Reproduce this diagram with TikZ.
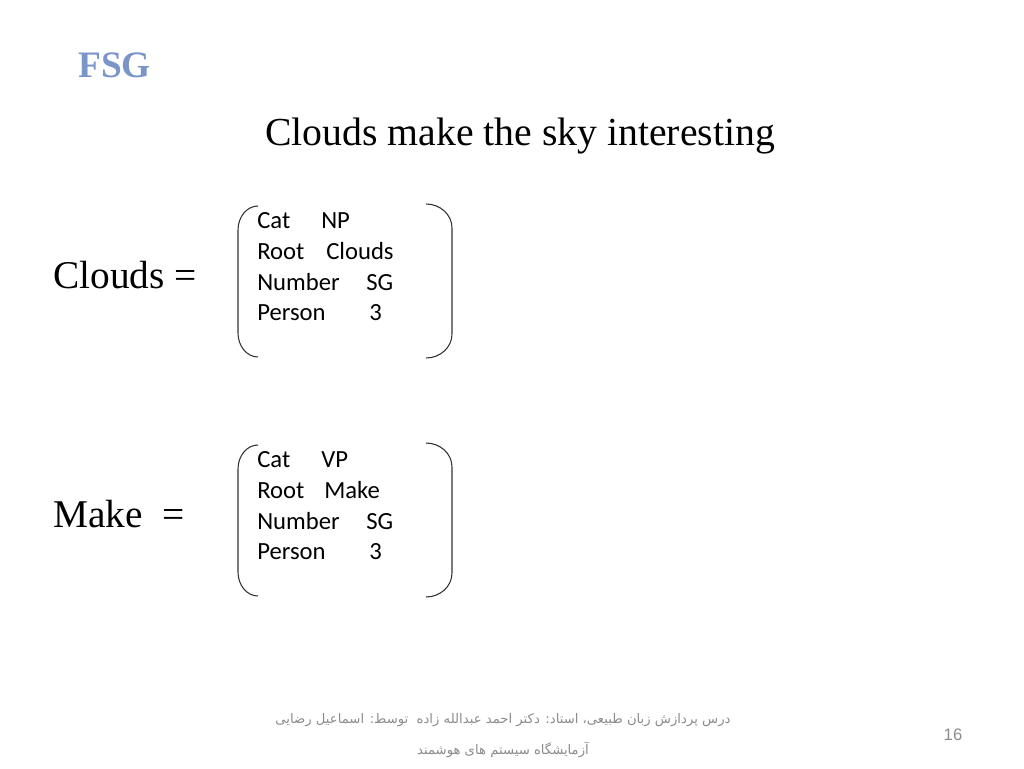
\documentclass[tikz,border=0pt]{standalone}
\usepackage{fontspec}
\setmainfont{Liberation Serif}
\newfontfamily\featfont{Carlito}
\newfontfamily\numfont{Liberation Sans}
\newfontfamily\arabicfont[Script=Arabic]{DejaVu Sans}
\TeXXeTstate=1
\definecolor{fsgblue}{RGB}{122,150,200}
\definecolor{footgray}{RGB}{140,140,140}

\begin{document}
\begin{tikzpicture}[x=0.75pt,y=0.75pt,
  every node/.style={inner sep=0pt},
  big/.style={anchor=base west,font=\fontsize{29.5}{34}\selectfont},
  feat/.style={anchor=base west,font=\featfont\fontsize{18.5}{22}\selectfont},
  brack/.style={black!80,line width=0.8pt},
  foot/.style={text=footgray,font=\arabicfont\fontsize{9.9}{12}\selectfont}]
\useasboundingbox [fill=white] (0,0) rectangle (1024,-768);
% heading
\node [anchor=base west,text=fsgblue,font=\bfseries\fontsize{28}{32}\selectfont] (fsg) at (78,-77) {FSG};
\node [anchor=base,font=\fontsize{29.8}{34}\selectfont] (title) at (520,-145) {Clouds make the sky interesting};
% first structure
\node [big] (clouds) at (53,-288) {Clouds =};
\draw [brack] (258,-206) arc (90:180:20 and 24) -- (238,-333) arc (180:270:20 and 24);
\draw [brack] (426,-204) arc (90:0:26 and 24) -- (452,-334) arc (0:-90:26 and 24);
\node [feat] (c1k) at (257,-228) {Cat};
\node [feat] (c1v) at (321,-228) {NP};
\node [feat] (c2k) at (257,-259) {Root};
\node [feat] (c2v) at (326,-259) {Clouds};
\node [feat] (c3k) at (257,-290) {Number};
\node [feat] (c3v) at (366,-290) {SG};
\node [feat] (c4k) at (257,-320) {Person};
\node [feat] (c4v) at (369,-320) {3};
% second structure
\node [big] (make) at (53,-527) {Make\ \ =};
\draw [brack] (258,-445) arc (90:180:20 and 24) -- (238,-572) arc (180:270:20 and 24);
\draw [brack] (426,-443) arc (90:0:26 and 24) -- (452,-573) arc (0:-90:26 and 24);
\node [feat] (m1k) at (257,-467) {Cat};
\node [feat] (m1v) at (321,-467) {VP};
\node [feat] (m2k) at (257,-498) {Root};
\node [feat] (m2v) at (324,-498) {Make};
\node [feat] (m3k) at (257,-529) {Number};
\node [feat] (m3v) at (366,-529) {SG};
\node [feat] (m4k) at (257,-559) {Person};
\node [feat] (m4v) at (369,-559) {3};
% footer
\node [foot] (foot1) at (503,-720) {\beginR درس پردازش زبان طبیعی، استاد: دکتر احمد عبدالله زاده\ \ توسط: اسماعیل رضایی\endR};
\node [foot] (foot2) at (503,-750) {\beginR آزمایشگاه سیستم های هوشمند\endR};
\node [text=footgray,font=\numfont\fontsize{12.5}{14}\selectfont] (page) at (953,-735) {16};
\end{tikzpicture}
\end{document}
